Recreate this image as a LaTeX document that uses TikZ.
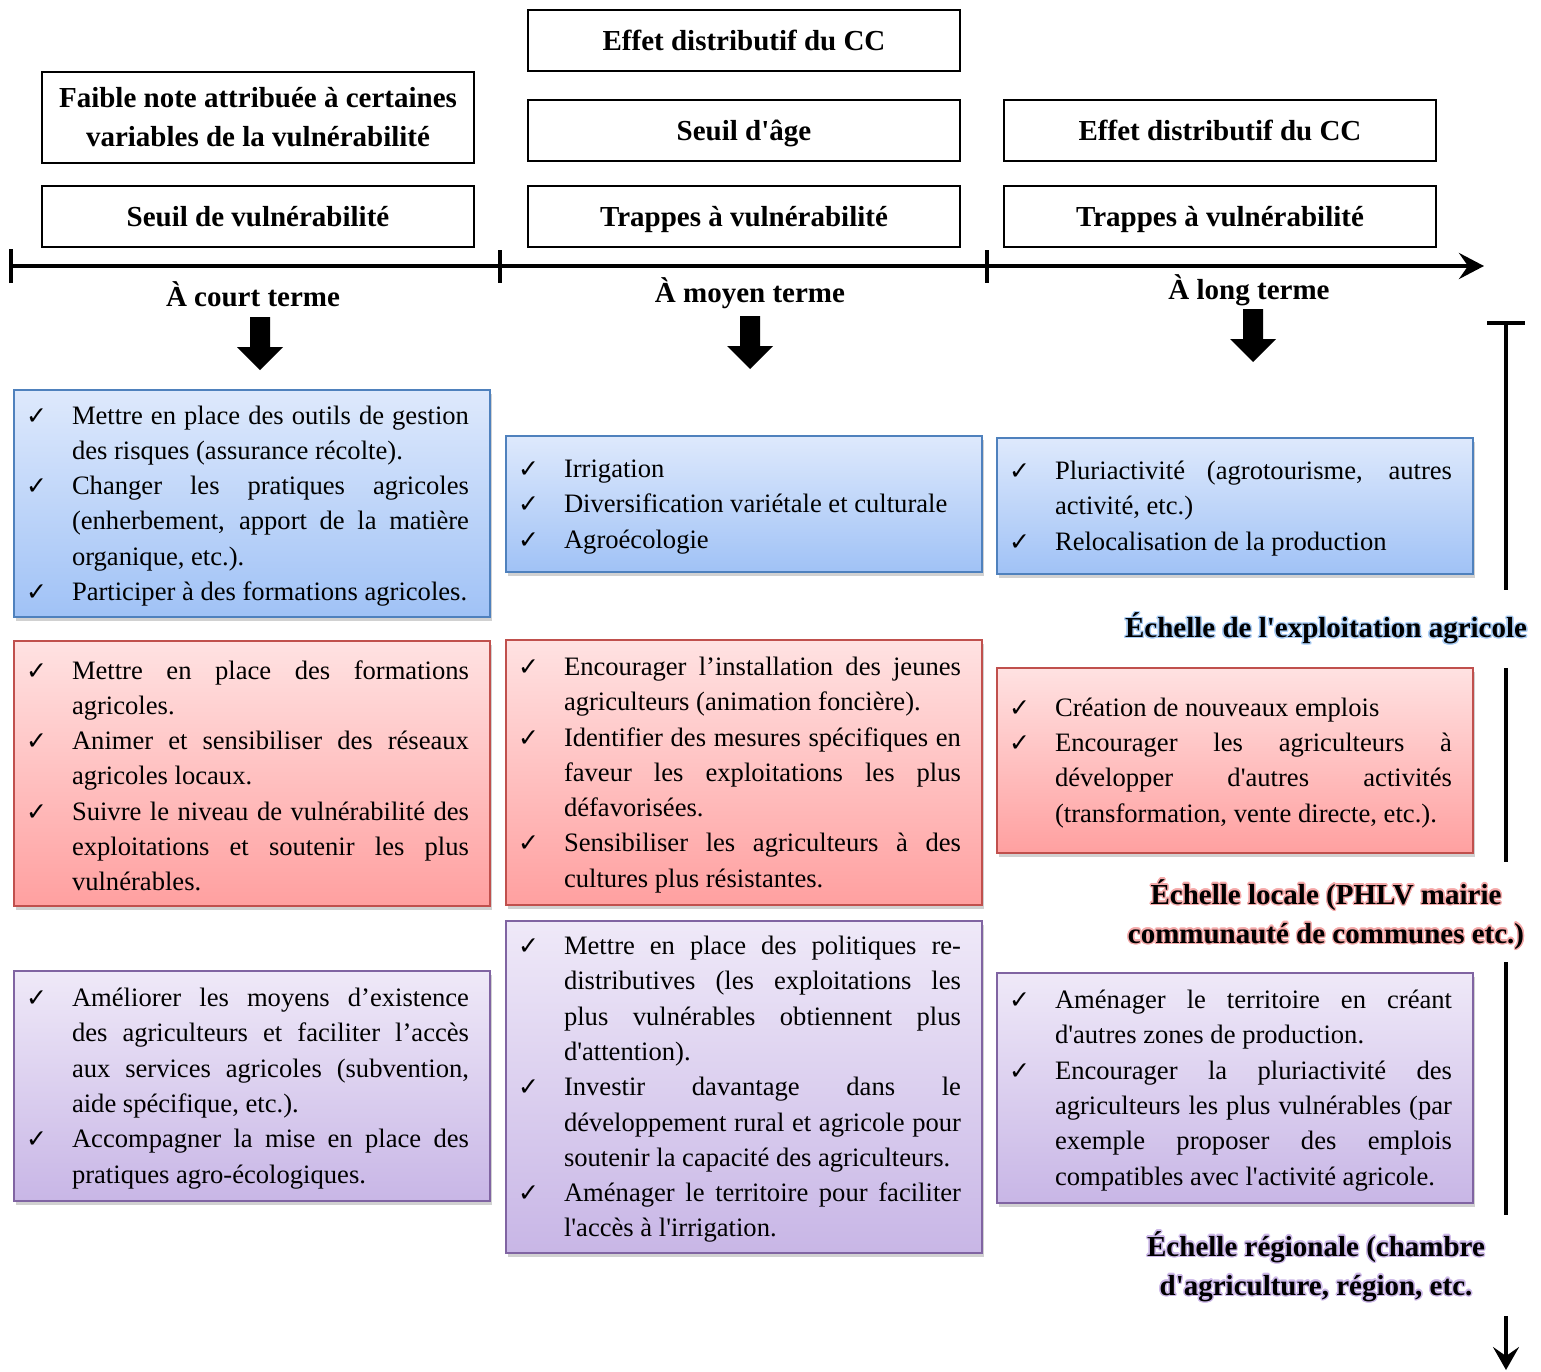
\documentclass[tikz,border=0pt]{standalone}
\usepackage{fontspec}
\newfontfamily\serif{Liberation Serif}
\newfontfamily\symb{DejaVu Sans}
\usepackage[copies]{contour}
\contourlength{1.4pt}
\usetikzlibrary{arrows.meta, positioning, shadows}

\definecolor{bleuHaut}{RGB}{222,233,252}
\definecolor{bleuBas}{RGB}{160,194,246}
\definecolor{bleuBord}{RGB}{79,129,189}
\definecolor{bleuHalo}{RGB}{170,205,245}
\definecolor{rougeHaut}{RGB}{255,226,226}
\definecolor{rougeBas}{RGB}{255,160,160}
\definecolor{rougeBord}{RGB}{192,80,77}
\definecolor{rougeHalo}{RGB}{245,170,170}
\definecolor{violetHaut}{RGB}{239,233,248}
\definecolor{violetBas}{RGB}{200,182,230}
\definecolor{violetBord}{RGB}{128,100,162}
\definecolor{violetHalo}{RGB}{205,185,232}

\newcommand{\liste}{\serif\fontsize{26.6pt}{35.3pt}\selectfont\leftskip=12pt\rightskip=21pt\spaceskip=0pt\xspaceskip=0pt\parfillskip=0pt plus 1fil\parindent=0pt\parskip=0pt\hyphenpenalty=10000\tolerance=10000\hbadness=10000\vskip-12pt\relax}
\newcommand{\coche}[1]{\par\noindent\hangindent=46pt\hangafter=1\makebox[46pt][l]{\symb\fontsize{25pt}{25pt}\selectfont ✓}#1\par}

\begin{document}
\begin{tikzpicture}[
    x=1pt, y=-1pt,
    titre/.style={rectangle, draw=black, line width=2pt, fill=white, minimum width=432pt, minimum height=61pt, align=center, font=\serif\bfseries\fontsize{29pt}{39pt}\selectfont},
    titreun/.style={titre, text height=24pt, text depth=4pt},
    terme/.style={font=\serif\bfseries\fontsize{29pt}{39pt}\selectfont},
    echelle/.style={align=center, font=\serif\bfseries\fontsize{29pt}{39pt}\selectfont},
    actionbox/.style={rectangle, line width=1.5pt, minimum width=476pt, text width=476pt, inner xsep=0pt, inner ysep=4pt, drop shadow={shadow xshift=2pt, shadow yshift=-4pt, fill=black, opacity=0.18}},
    bleu/.style={actionbox, draw=bleuBord, top color=bleuHaut, bottom color=bleuBas},
    rouge/.style={actionbox, draw=rougeBord, top color=rougeHaut, bottom color=rougeBas},
    violet/.style={actionbox, draw=violetBord, top color=violetHaut, bottom color=violetBas},
    axe/.style={line width=4pt, black},
    flechebas/.pic={\fill (-10,0) -- (10,0) -- (10,30) -- (23,30) -- (0,53) -- (-23,30) -- (-10,30) -- cycle;}
]
\useasboundingbox (0,0) rectangle (1541,1371);

% Facteurs au-dessus de la frise
\node[titreun] (seuilVuln) at (258,216.5) {Seuil de vulnérabilité};
\node[titre, minimum height=91pt, above=21pt of seuilVuln] (faible) {Faible note attribuée à certaines\\variables de la vulnérabilité};
\node[titreun] (trappesB) at (744,216.5) {Trappes à vulnérabilité};
\node[titreun, above=23pt of trappesB] (seuilAge) {Seuil d'âge};
\node[titreun, above=27pt of seuilAge] (effetB) {Effet distributif du CC};
\node[titreun] (trappesC) at (1220,216.5) {Trappes à vulnérabilité};
\node[titreun, above=23pt of trappesC] (effetC) {Effet distributif du CC};

% Frise du temps
\coordinate (tA) at (9,266);
\coordinate (tB) at (500,266);
\coordinate (tC) at (987,266);
\coordinate (tD) at (1484,266);
\draw[axe, {Bar[width=34pt]}-{Stealth[length=25pt, width=26pt, inset=9pt]}] (tA) -- (tD);
\draw[axe] ([yshift=16pt]tB) -- ([yshift=-17pt]tB);
\draw[axe] ([yshift=16pt]tC) -- ([yshift=-17pt]tC);

\node[terme] (court) at (253,294) {À court terme};
\node[terme] (moyen) at (750,293) {À moyen terme};
\node[terme] (long) at (1249,290) {À long terme};

\pic at (260,317) {flechebas};
\pic at (750,316) {flechebas};
\pic at (1253,309) {flechebas};

% Echelle de l'exploitation
\node[bleu, minimum height=227pt] (b1) at (252,503.5) {\liste
\coche{Mettre en place des outils de gestion\linebreak des risques (assurance récolte).}
\coche{Changer les pratiques agricoles\linebreak (enherbement, apport de la matière\linebreak organique, etc.).}
\coche{Participer à des formations agricoles.}};
\node[bleu, minimum height=136pt] (b2) at (744,504) {\liste
\coche{Irrigation}
\coche{Diversification variétale et culturale}
\coche{Agroécologie}};
\node[bleu, minimum height=136pt] (b3) at (1235,506) {\liste
\coche{Pluriactivité (agrotourisme, autres\linebreak activité, etc.)}
\coche{Relocalisation de la production}};

% Echelle locale
\node[rouge, minimum height=265pt] (r1) at (252,773.5) {\liste
\coche{Mettre en place des formations\linebreak agricoles.}
\coche{Animer et sensibiliser des réseaux\linebreak agricoles locaux.}
\coche{Suivre le niveau de vulnérabilité des\linebreak exploitations et soutenir les plus\linebreak vulnérables.}};
\node[rouge, minimum height=265pt] (r2) at (744,772.5) {\liste
\coche{Encourager l’installation des jeunes\linebreak agriculteurs (animation foncière).}
\coche{Identifier des mesures spécifiques en\linebreak faveur les exploitations les plus\linebreak défavorisées.}
\coche{Sensibiliser les agriculteurs à des\linebreak cultures plus résistantes.}};
\node[rouge, minimum height=185pt] (r3) at (1235,760.5) {\liste
\coche{Création de nouveaux emplois}
\coche{Encourager les agriculteurs à\linebreak développer d'autres activités\linebreak (transformation, vente directe, etc.).}};

% Echelle regionale
\node[violet, minimum height=230pt] (v1) at (252,1086) {\liste
\coche{Améliorer les moyens d’existence\linebreak des agriculteurs et faciliter l’accès\linebreak aux services agricoles (subvention,\linebreak aide spécifique, etc.).}
\coche{Accompagner la mise en place des\linebreak pratiques agro-écologiques.}};
\node[violet, minimum height=332pt] (v2) at (744,1087) {\liste
\coche{Mettre en place des politiques re-\linebreak distributives (les exploitations les\linebreak plus vulnérables obtiennent plus\linebreak d'attention).}
\coche{Investir davantage dans le\linebreak développement rural et agricole pour\linebreak soutenir la capacité des agriculteurs.}
\coche{Aménager le territoire pour faciliter\linebreak l'accès à l'irrigation.}};
\node[violet, minimum height=230pt] (v3) at (1235,1088) {\liste
\coche{Aménager le territoire en créant\linebreak d'autres zones de production.}
\coche{Encourager la pluriactivité des\linebreak agriculteurs les plus vulnérables (par\linebreak exemple proposer des emplois\linebreak compatibles avec l'activité agricole.}};

% Axe des echelles
\node[echelle] (echExpl) at (1326,629) {\contour{bleuHalo}{Échelle de l'exploitation agricole}};
\node[echelle] (echLoc) at (1326,915) {\contour{rougeHalo}{Échelle locale (PHLV mairie}\\\contour{rougeHalo}{communauté de communes etc.)}};
\node[echelle] (echReg) at (1316,1267) {\contour{violetHalo}{Échelle régionale (chambre}\\\contour{violetHalo}{d'agriculture, région, etc.}};

\coordinate (axeA) at (1506,321);
\coordinate (axeB) at (1506,590);
\coordinate (axeC) at (1506,668);
\coordinate (axeD) at (1506,862);
\coordinate (axeE) at (1506,962);
\coordinate (axeF) at (1506,1215);
\coordinate (axeG) at (1506,1316);
\coordinate (axeH) at (1506,1370);
\draw[axe, {Bar[width=38pt]}-] (axeA) -- (axeB);
\draw[axe] (axeC) -- (axeD);
\draw[axe] (axeE) -- (axeF);
\draw[axe, -{Stealth[length=23pt, width=26pt, inset=9pt]}] (axeG) -- (axeH);

\end{tikzpicture}
\end{document}
